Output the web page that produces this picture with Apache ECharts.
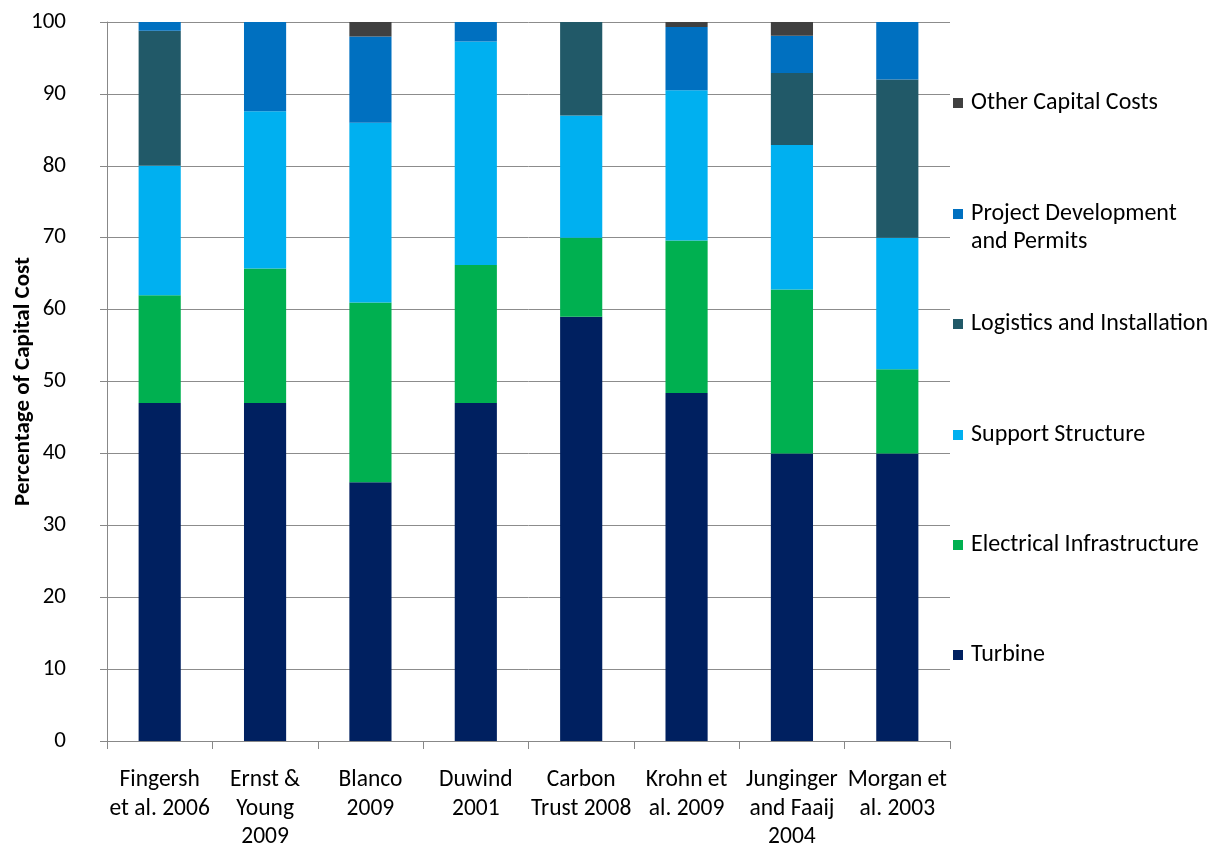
<!DOCTYPE html>
<html>
<head>
<meta charset="utf-8">
<script src="https://cdn.jsdelivr.net/npm/echarts@6/dist/echarts.min.js"></script>
<style>
html,body{margin:0;padding:0;background:#fff;overflow:hidden;}
#c{width:1210px;height:848px;}
</style>
</head>
<body>
<div id="c"></div>
<script>
var categories = ['Fingersh\net al. 2006', 'Ernst &\nYoung\n2009', 'Blanco\n2009', 'Duwind\n2001', 'Carbon\nTrust 2008', 'Krohn et\nal. 2009', 'Junginger\nand Faaij\n2004', 'Morgan et\nal. 2003'];
var turbine      = [47, 47, 36, 47, 59, 48.4, 40, 40];
var electrical   = [15, 18.7, 25, 19.2, 11, 21.2, 22.8, 11.7];
var support      = [18, 21.9, 25, 31.1, 17, 20.9, 20.1, 18.3];
var logistics    = [18.8, 0, 0, 0, 13, 0, 10, 22];
var projectDev   = [1.2, 12.4, 12, 2.7, 0, 8.8, 5.2, 8];
var otherCosts   = [0, 0, 2, 0, 0, 0.7, 1.9, 0];
var yTicks = [0, 100, 10];

var FONT = "Carlito, 'Liberation Sans Narrow', 'Noto Sans', sans-serif";
var names = ['Turbine', 'Electrical Infrastructure', 'Support Structure', 'Logistics and Installation', 'Project Development\nand Permits', 'Other Capital Costs'];
var colors = ['#002060', '#00B050', '#00B0F0', '#215968', '#0070C0', '#404040'];
var values = [turbine, electrical, support, logistics, projectDev, otherCosts];

var series = names.map(function (n, i) {
  return {
    name: n, type: 'bar', stack: 'total', barWidth: '40%',
    itemStyle: { color: colors[i] },
    data: values[i]
  };
});

var legendTops = [641, 531, 421, 310, 200, 89];
var legends = names.map(function (n, i) {
  var two = n.indexOf('\n') >= 0;
  return {
    orient: 'vertical', left: 953, top: legendTops[i],
    data: [n], itemWidth: 10, itemHeight: two ? 38 : 10, itemGap: 0,
    icon: two ? 'path://M0,0h10v10h-10z M0,37.99h0.01v0.01h-0.01z' : 'rect',
    padding: 0,
    selectedMode: false,
    textStyle: { fontFamily: FONT, fontSize: 24, color: '#000', lineHeight: 28, padding: [0, 0, 0, 3] }
  };
});

var chart = echarts.init(document.getElementById('c'));
chart.setOption({
  animation: false,
  backgroundColor: '#fff',
  grid: { left: 107, right: 260, top: 22, bottom: 107, containLabel: false, outerBoundsMode: 'none' },
  legend: legends,
  xAxis: {
    type: 'category', data: categories,
    axisLine: { lineStyle: { color: '#888', width: 1 } },
    axisTick: { show: true, length: 8, lineStyle: { color: '#888' } },
    axisLabel: { fontFamily: FONT, fontSize: 23.5, color: '#000', lineHeight: 28.5, margin: 25, interval: 0 }
  },
  yAxis: {
    type: 'value', min: yTicks[0], max: yTicks[1], interval: yTicks[2],
    name: 'Percentage of Capital Cost', nameLocation: 'middle', nameGap: 72, nameMoveOverlap: false,
    nameTextStyle: { fontFamily: FONT, fontSize: 23, fontWeight: 'bold', color: '#000' },
    axisLine: { show: true, lineStyle: { color: '#888', width: 1 } },
    axisTick: { show: true, length: 7, lineStyle: { color: '#888' } },
    axisLabel: { fontFamily: FONT, fontSize: 23, color: '#000', margin: 41 },
    splitLine: { show: true, lineStyle: { color: '#8c8c8c', width: 1 } }
  },
  series: series
});
</script>
</body>
</html>
